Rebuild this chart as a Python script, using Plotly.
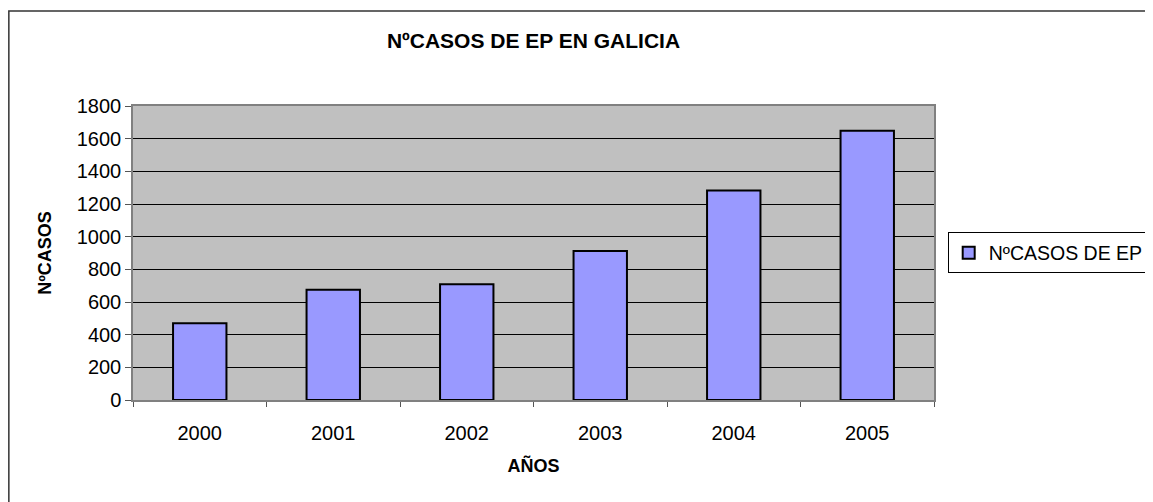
import plotly.graph_objects as go

years = ["2000", "2001", "2002", "2003", "2004", "2005"]
casos = [470, 675, 708, 912, 1282, 1648]

FONT = "Liberation Sans, Arial, sans-serif"

fig = go.Figure()

fig.add_trace(go.Bar(
    x=years,
    y=casos,
    name="NºCASOS DE EP",
    marker=dict(color="#9999FF", line=dict(color="black", width=2)),
    width=0.4,
))

# chart-area border (clipped at right and bottom like the original)
fig.add_shape(type="rect", xref="paper", yref="paper",
              x0=-0.155, x1=1.3, y0=-0.4, y1=1.323,
              line=dict(color="#333333", width=1.5), layer="below")

fig.update_layout(
    width=1153, height=502,
    margin=dict(l=125, r=227, t=98, b=110, autoexpand=False),
    paper_bgcolor="white",
    plot_bgcolor="#C0C0C0",
    font=dict(family=FONT, size=18, color="black"),
    title=dict(text="<b>NºCASOS DE EP EN GALICIA</b>", x=0.5, xref="paper",
               xanchor="center", y=0.934, yref="container", yanchor="middle",
               font=dict(size=21)),
    bargap=0.6,
    showlegend=True,
    legend=dict(x=0.815, y=0.512, xref="container", yref="container",
                xanchor="left", yanchor="middle",
                bordercolor="black", borderwidth=1, bgcolor="white",
                font=dict(size=19.5), itemwidth=30),
)

fig.update_xaxes(
    type="category",
    tickson="boundaries",
    ticks="outside", ticklen=5, tickcolor="#555555",
    showline=True, linecolor="#808080", linewidth=1.5, mirror=True,
    showgrid=False,
    ticklabelstandoff=14,
    tickfont=dict(size=20),
    title=dict(text="<b>AÑOS</b>", standoff=17, font=dict(size=18)),
)

fig.update_yaxes(
    range=[0, 1800], dtick=200,
    ticks="outside", ticklen=6, tickcolor="#555555",
    showline=True, linecolor="#808080", linewidth=1.5, mirror=True,
    showgrid=True, gridcolor="black", gridwidth=1,
    zeroline=False,
    tickfont=dict(size=20),
    title=dict(text="<b>NºCASOS</b>", standoff=20, font=dict(size=18)),
)

fig.write_html("out.html")
